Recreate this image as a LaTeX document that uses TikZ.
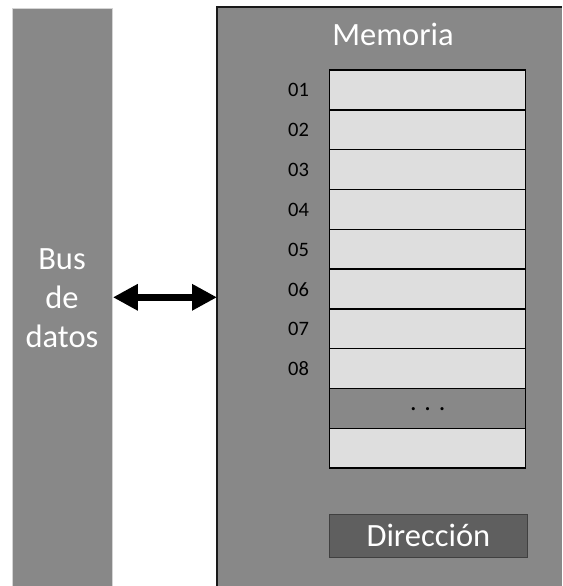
\documentclass[tikz,border=0pt]{standalone}
\usepackage{fontspec}
\setmainfont{Carlito}
\usetikzlibrary{arrows.meta}
\definecolor{boxgray}{HTML}{888888}
\definecolor{cellgray}{HTML}{DEDEDE}
\definecolor{dirgray}{HTML}{5F5F5F}
\definecolor{busedge}{HTML}{D4D4D4}
\tikzset{
  px/.style={x=1pt,y=-1pt},
  busbox/.style={draw=busedge,line width=1.2pt,fill=boxgray,minimum width=99.7pt,minimum height=578pt,inner sep=0pt,anchor=north west},
  memfill/.style={fill=boxgray},
  memedge/.style={draw=black!90,line width=2pt},
  cell/.style={draw=black,line width=1.4pt,fill=cellgray,minimum width=196pt,minimum height=39.8pt,inner sep=0pt,anchor=north west},
  dotcell/.style={cell,fill=boxgray},
  dirbox/.style={draw=black!75,line width=0.8pt,fill=dirgray,minimum width=197.4pt,minimum height=42.4pt,inner sep=0pt,anchor=north west,text=white,font=\fontsize{32.5}{37}\selectfont},
  bigtext/.style={text=white,font=\fontsize{32.5}{39}\selectfont,inner sep=0pt},
  addr/.style={font=\fontsize{20.5}{24}\selectfont,inner sep=0pt},
  arr/.style={line width=7pt,{Triangle[length=25pt,width=25pt]}-{Triangle[length=25pt,width=25pt]}}
}
\begin{document}
\begin{tikzpicture}[px]
\useasboundingbox (0,0) rectangle (562,586);
\fill[white] (0,0) rectangle (562,586);
\node[busbox] (bus) at (12,8) {};
\node[bigtext,align=center] (buslbl) at (62,298) {Bus\\de\\datos};
\path[memfill] (217,586) rectangle (562,7.3);
\path[memedge] (217,586) |- (562,7.3);
\coordinate (mem) at (217,297.3);
\node[bigtext,anchor=base] (memlbl) at (393,46) {Memoria};
\foreach \i/\lab in {0/01,1/02,2/03,3/04,4/05,5/06,6/07,7/08}{
  \node[cell] (c\i) at (329,69.3+\i*39.8) {};
  \node[addr] (a\i) at (298.5,90.3+\i*39.8) {\lab};
}
\node[dotcell] (c8) at (329,69.3+8*39.8) {\raisebox{-5pt}{\fontsize{26}{30}\selectfont . . .}};
\node[cell] (c9) at (329,69.3+9*39.8) {};
\node[dirbox] (dir) at (329.3,514.3) {Dirección};
\draw[arr] (bus.east |- mem) -- (mem);
\end{tikzpicture}
\end{document}
